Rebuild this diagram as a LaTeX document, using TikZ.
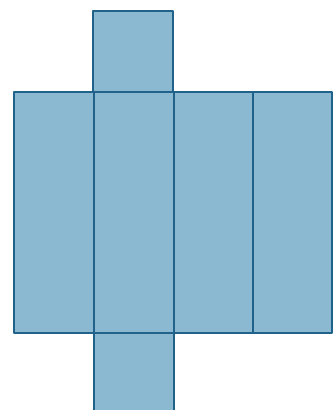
\documentclass[tikz,border=0pt]{standalone}
\usepackage{tikz}
\definecolor{facefill}{RGB}{139,185,209}
\definecolor{faceedge}{RGB}{32,98,138}
\begin{document}
\begin{tikzpicture}[
      x=1pt, y=-1pt,
      face/.style={draw=faceedge, fill=facefill, line width=1.1pt, line join=round}
  ]
      \useasboundingbox (0,0) rectangle (336,410);

      % Side faces
      \draw[face] (14,92)  rectangle (94,333);
      \draw[face] (94,92)  rectangle (174,333);
      \draw[face] (174,92) rectangle (253,333);
      \draw[face] (253,92) rectangle (332,333);

      % Top and bottom faces
      \draw[face] (93,11)  rectangle (173,92);
      \draw[face] (94,333) rectangle (174,412);
  \end{tikzpicture}
\end{document}
